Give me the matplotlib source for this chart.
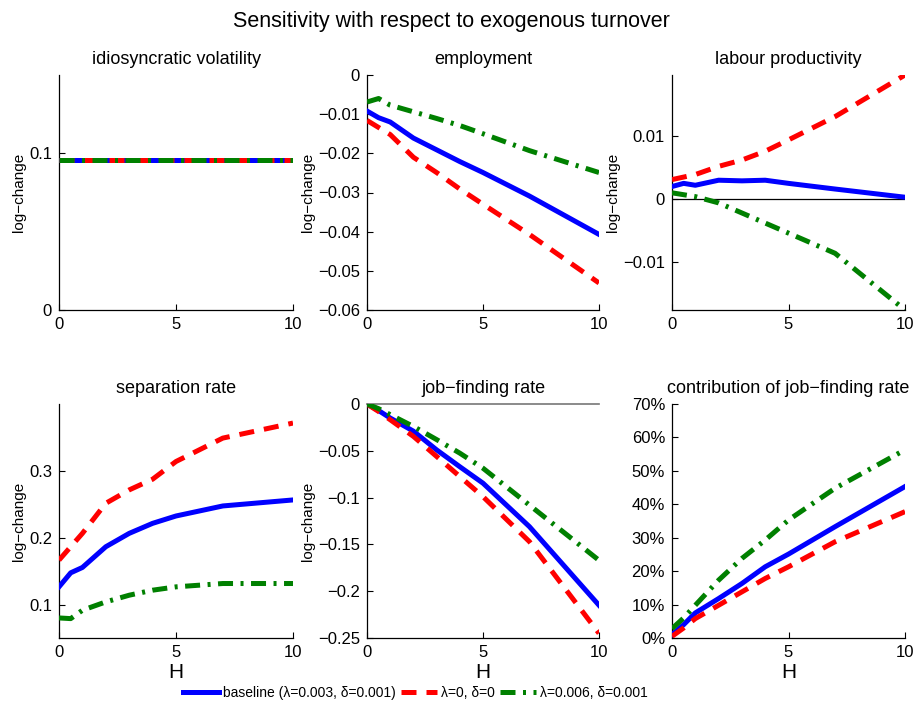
import matplotlib
matplotlib.use("Agg")
import matplotlib.pyplot as plt
from matplotlib.ticker import FuncFormatter

plt.rcParams['font.family'] = ['Liberation Sans', 'DejaVu Sans']

H = [0, 0.5, 1, 2, 3, 4, 5, 7, 10]

series_labels = ["baseline (\u03bb=0.003, \u03b4=0.001)", "\u03bb=0, \u03b4=0", "\u03bb=0.006, \u03b4=0.001"]

vol_base = [0.0955] * 9
vol_zero = [0.0955] * 9
vol_high = [0.0955] * 9

emp_base = [-0.0092, -0.0109, -0.0120, -0.0161, -0.0191, -0.0221, -0.0249, -0.0309, -0.0407]
emp_zero = [-0.0116, -0.0134, -0.0152, -0.0210, -0.0249, -0.0291, -0.0330, -0.0407, -0.0531]
emp_high = [-0.0069, -0.0060, -0.0077, -0.0094, -0.0111, -0.0129, -0.0150, -0.0193, -0.0249]

lp_base = [0.0020, 0.0025, 0.0022, 0.0030, 0.0029, 0.0030, 0.0025, 0.0016, 0.0003]
lp_zero = [0.0031, 0.0035, 0.0039, 0.0052, 0.0062, 0.0076, 0.0094, 0.0131, 0.0197]
lp_high = [0.0010, 0.0007, 0.0004, -0.0006, -0.0022, -0.0038, -0.0054, -0.0086, -0.0176]

sep_base = [0.1265, 0.1475, 0.1555, 0.1865, 0.2065, 0.2215, 0.2325, 0.2475, 0.2565]
sep_zero = [0.1665, 0.1865, 0.2065, 0.2515, 0.2715, 0.2875, 0.3140, 0.3490, 0.3715]
sep_high = [0.0800, 0.0790, 0.0915, 0.1040, 0.1140, 0.1215, 0.1265, 0.1315, 0.1315]

jf_base = [0.0, -0.007, -0.015, -0.029, -0.049, -0.067, -0.0846, -0.131, -0.215]
jf_zero = [0.0, -0.008, -0.0168, -0.0346, -0.056, -0.0775, -0.099, -0.147, -0.245]
jf_high = [0.0, -0.005, -0.0114, -0.024, -0.038, -0.0525, -0.0686, -0.108, -0.167]

cjf_base = [1.0, 4.0, 7.5, 11.8, 16.3, 21.3, 25.1, 33.3, 45.3]
cjf_zero = [0.5, 3.0, 5.8, 9.8, 13.8, 17.8, 21.3, 28.8, 37.8]
cjf_high = [2.8, 6.0, 9.8, 17.3, 23.8, 29.3, 35.3, 44.8, 56.3]

titles = ["idiosyncratic volatility", "employment", "labour productivity",
          "separation rate", "job\u2212finding rate", "contribution of job\u2212finding rate"]

panels = [
    (vol_base, vol_zero, vol_high),
    (emp_base, emp_zero, emp_high),
    (lp_base, lp_zero, lp_high),
    (sep_base, sep_zero, sep_high),
    (jf_base, jf_zero, jf_high),
    (cjf_base, cjf_zero, cjf_high),
]

ylims = [(0, 0.15), (-0.06, 0), (-0.0176, 0.0197), (0.05, 0.4), (-0.25, 0), (0, 70)]
yticks = [[0, 0.1], [-0.06, -0.05, -0.04, -0.03, -0.02, -0.01, 0], [-0.01, 0, 0.01],
          [0.1, 0.2, 0.3], [-0.25, -0.2, -0.15, -0.1, -0.05, 0], list(range(0, 80, 10))]

fig = plt.figure(figsize=(9.19, 7.10), dpi=100)
W, Hf = 919.0, 710.0
lefts = [59, 367, 672]
widths = [234, 232, 233]
tops = [75, 404]
heights = [235, 234]

colors = ['#0000ff', '#ff0000', '#008000']
styles = ['-', (0, (3, 2)), (0, (3, 1.5, 0.6, 1.5))]

lines = []
for i in range(6):
    r, c = divmod(i, 3)
    ax = fig.add_axes([lefts[c] / W, 1 - (tops[r] + heights[r]) / Hf, widths[c] / W, heights[r] / Hf])
    base, zero, high = panels[i]
    l1, = ax.plot(H, base, color=colors[0], lw=3.6, ls=styles[0], zorder=3)
    l2, = ax.plot(H, zero, color=colors[1], lw=3.6, ls=styles[1], zorder=3)
    l3, = ax.plot(H, high, color=colors[2], lw=3.6, ls=styles[2], zorder=3)
    if i == 0:
        lines = [l1, l2, l3]
    if i == 2:
        ax.plot([0, 10], [0, 0], color='black', lw=0.9, zorder=2)
    if i == 4:
        ax.plot([0, 10], [0, 0], color='#777777', lw=1.2, zorder=2, clip_on=False)
    ax.set_xlim(0, 10)
    ax.set_ylim(*ylims[i])
    ax.set_xticks([0, 5, 10])
    ax.set_yticks(yticks[i])
    if i == 5:
        ax.yaxis.set_major_formatter(FuncFormatter(lambda v, p: "%d%%" % round(v)))
    else:
        ax.yaxis.set_major_formatter(FuncFormatter(lambda v, p: ("%g" % v).replace('-', '\u2212')))
    for s in ['top', 'right']:
        ax.spines[s].set_visible(False)
    for s in ['left', 'bottom']:
        ax.spines[s].set_linewidth(0.9)
    ax.tick_params(direction='in', length=4, labelsize=12, pad=5)
    ax.set_title(titles[i], fontsize=13, pad=8)
    if i != 5:
        ax.set_ylabel("log\u2212change", fontsize=11, labelpad=2)
    if r == 1:
        ax.set_xlabel("H", fontsize=15, labelpad=2)

fig.suptitle("Sensitivity with respect to exogenous turnover", fontsize=15.5, x=0.491, y=0.985)
fig.legend(lines, series_labels, loc='lower center', bbox_to_anchor=(0.452, -0.004), ncol=3,
           frameon=False, fontsize=10, handlelength=2.6, columnspacing=0.4, handletextpad=0.25)

fig.savefig("out.png", dpi=100)
